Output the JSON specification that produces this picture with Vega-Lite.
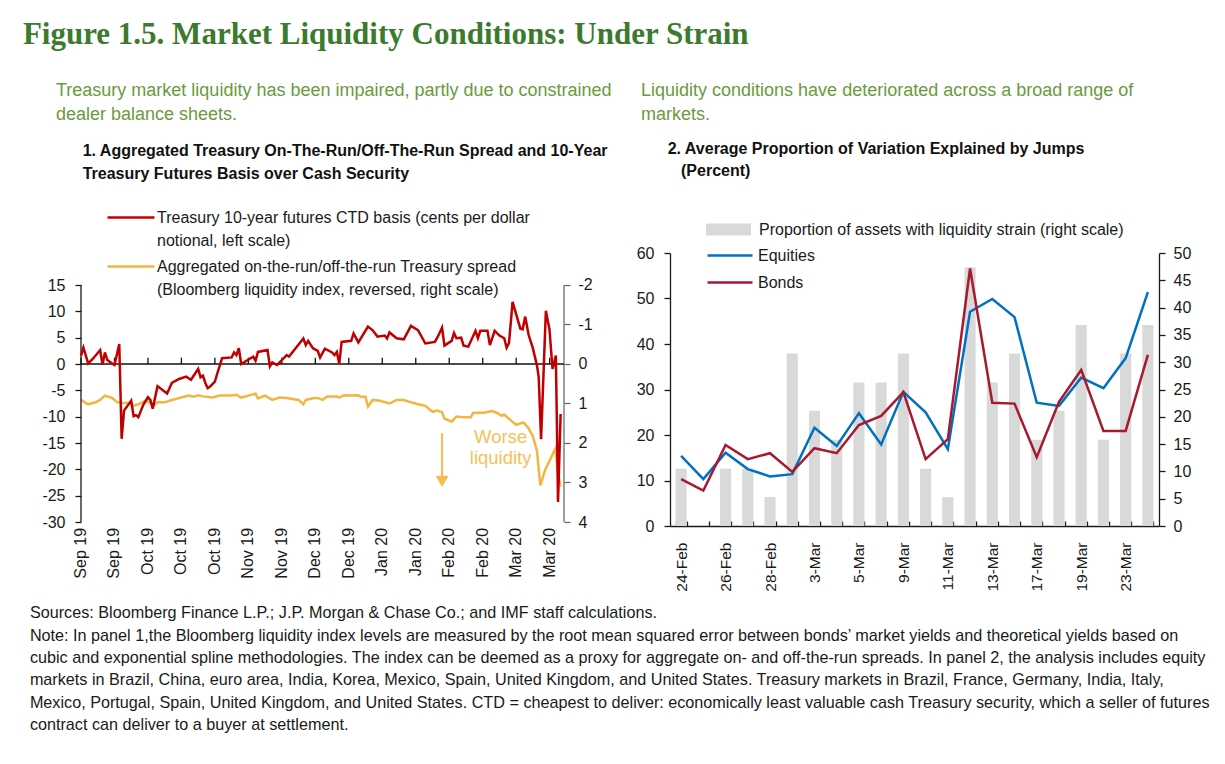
{
  "$schema": "https://vega.github.io/schema/vega-lite/v6.json",
  "background": "white",
  "padding": {"left": 22, "top": 18, "right": 10, "bottom": 10},
  "config": {
    "view": {"stroke": null},
    "axis": {"labelFont": "Liberation Sans", "labelFontSize": 16, "labelColor": "#1a1a1a", "domainColor": "#1a1a1a", "tickColor": "#1a1a1a", "grid": false, "domainWidth": 1.3, "tickWidth": 1.3, "labelOverlap": false},
    "legend": {"labelFont": "Liberation Sans", "labelFontSize": 16, "labelColor": "#1a1a1a", "padding": 0, "labelLimit": 0}
  },
  "datasets": {
    "ctd": [
      {"date": "2019-09-03", "ctd": 1.6}, {"date": "2019-09-04", "ctd": 3.1}, {"date": "2019-09-06", "ctd": 0.1}, {"date": "2019-09-08", "ctd": 1.0},
      {"date": "2019-09-11", "ctd": 2.65}, {"date": "2019-09-12", "ctd": -0.1}, {"date": "2019-09-13", "ctd": 2.2}, {"date": "2019-09-14", "ctd": 0.75},
      {"date": "2019-09-16", "ctd": 0.1}, {"date": "2019-09-17", "ctd": -0.2}, {"date": "2019-09-19", "ctd": 3.8}, {"date": "2019-09-20", "ctd": -14.2},
      {"date": "2019-09-21", "ctd": -8.85}, {"date": "2019-09-24", "ctd": -6.95}, {"date": "2019-09-25", "ctd": -9.9}, {"date": "2019-09-26", "ctd": -9.7},
      {"date": "2019-09-27", "ctd": -10.1}, {"date": "2019-09-29", "ctd": -7.8}, {"date": "2019-10-01", "ctd": -6.3}, {"date": "2019-10-02", "ctd": -6.8},
      {"date": "2019-10-03", "ctd": -8.5}, {"date": "2019-10-05", "ctd": -4.2}, {"date": "2019-10-09", "ctd": -5.6}, {"date": "2019-10-11", "ctd": -3.6},
      {"date": "2019-10-14", "ctd": -2.85}, {"date": "2019-10-17", "ctd": -2.4}, {"date": "2019-10-19", "ctd": -3.0}, {"date": "2019-10-22", "ctd": -0.95},
      {"date": "2019-10-23", "ctd": -2.5}, {"date": "2019-10-24", "ctd": -2.2}, {"date": "2019-10-25", "ctd": -3.6}, {"date": "2019-10-26", "ctd": -4.6},
      {"date": "2019-10-27", "ctd": -4.3}, {"date": "2019-10-29", "ctd": -3.35}, {"date": "2019-10-30", "ctd": -1.8}, {"date": "2019-11-01", "ctd": 1.1},
      {"date": "2019-11-05", "ctd": 1.25}, {"date": "2019-11-06", "ctd": 2.2}, {"date": "2019-11-07", "ctd": 1.7}, {"date": "2019-11-08", "ctd": 3.0},
      {"date": "2019-11-09", "ctd": 0.0}, {"date": "2019-11-14", "ctd": 1.4}, {"date": "2019-11-15", "ctd": 0.6}, {"date": "2019-11-16", "ctd": 2.3},
      {"date": "2019-11-20", "ctd": 2.65}, {"date": "2019-11-21", "ctd": -0.45}, {"date": "2019-11-22", "ctd": 0.3}, {"date": "2019-11-24", "ctd": -0.2},
      {"date": "2019-11-28", "ctd": 1.7}, {"date": "2019-11-29", "ctd": 1.4}, {"date": "2019-12-05", "ctd": 4.85}, {"date": "2019-12-06", "ctd": 3.6},
      {"date": "2019-12-07", "ctd": 4.4}, {"date": "2019-12-09", "ctd": 3.0}, {"date": "2019-12-11", "ctd": 2.5}, {"date": "2019-12-12", "ctd": 1.25},
      {"date": "2019-12-14", "ctd": 2.9}, {"date": "2019-12-17", "ctd": 2.2}, {"date": "2019-12-18", "ctd": 1.7}, {"date": "2019-12-19", "ctd": 2.3},
      {"date": "2019-12-20", "ctd": 0.0}, {"date": "2019-12-21", "ctd": 4.2}, {"date": "2019-12-25", "ctd": 4.4}, {"date": "2019-12-26", "ctd": 5.8},
      {"date": "2019-12-28", "ctd": 4.1}, {"date": "2020-01-01", "ctd": 7.1}, {"date": "2020-01-03", "ctd": 6.4}, {"date": "2020-01-05", "ctd": 5.2},
      {"date": "2020-01-08", "ctd": 5.4}, {"date": "2020-01-09", "ctd": 4.85}, {"date": "2020-01-10", "ctd": 6.0}, {"date": "2020-01-13", "ctd": 4.9},
      {"date": "2020-01-16", "ctd": 4.7}, {"date": "2020-01-19", "ctd": 7.25}, {"date": "2020-01-22", "ctd": 6.4}, {"date": "2020-01-25", "ctd": 3.9},
      {"date": "2020-01-29", "ctd": 4.2}, {"date": "2020-01-30", "ctd": 5.0}, {"date": "2020-02-01", "ctd": 6.9}, {"date": "2020-02-02", "ctd": 3.5},
      {"date": "2020-02-05", "ctd": 4.4}, {"date": "2020-02-06", "ctd": 5.9}, {"date": "2020-02-07", "ctd": 4.9}, {"date": "2020-02-09", "ctd": 5.0},
      {"date": "2020-02-10", "ctd": 3.5}, {"date": "2020-02-12", "ctd": 3.3}, {"date": "2020-02-15", "ctd": 6.3}, {"date": "2020-02-16", "ctd": 4.9},
      {"date": "2020-02-17", "ctd": 6.3}, {"date": "2020-02-20", "ctd": 6.3}, {"date": "2020-02-21", "ctd": 3.6}, {"date": "2020-02-23", "ctd": 6.3},
      {"date": "2020-02-25", "ctd": 5.4}, {"date": "2020-02-27", "ctd": 4.9}, {"date": "2020-02-28", "ctd": 3.1}, {"date": "2020-02-29", "ctd": 4.0},
      {"date": "2020-03-01T12:00:00Z", "ctd": 11.8}, {"date": "2020-03-04T17:00:00Z", "ctd": 6.75}, {"date": "2020-03-05T17:00:00Z", "ctd": 6.6},
      {"date": "2020-03-06T19:00:00Z", "ctd": 9.0}, {"date": "2020-03-08T05:00:00Z", "ctd": 5.5}, {"date": "2020-03-09T22:00:00Z", "ctd": 3.1},
      {"date": "2020-03-11T17:00:00Z", "ctd": -0.3}, {"date": "2020-03-12T10:00:00Z", "ctd": -2.5}, {"date": "2020-03-13T10:00:00Z", "ctd": -14.3},
      {"date": "2020-03-15T10:00:00Z", "ctd": 10.1}, {"date": "2020-03-16T22:00:00Z", "ctd": 6.6}, {"date": "2020-03-18T05:00:00Z", "ctd": -0.95},
      {"date": "2020-03-18T19:00:00Z", "ctd": 0.0}, {"date": "2020-03-19T14:00:00Z", "ctd": 1.6}, {"date": "2020-03-20T00:00:00Z", "ctd": -10.4},
      {"date": "2020-03-20T12:00:00Z", "ctd": -26.2}, {"date": "2020-03-21T00:00:00Z", "ctd": -18.6}, {"date": "2020-03-21T14:00:00Z", "ctd": -9.5}
    ],
    "liq": [
      {"date": "2019-09-03", "liq": 0.91}, {"date": "2019-09-06", "liq": 1.02}, {"date": "2019-09-09", "liq": 0.97}, {"date": "2019-09-11", "liq": 0.91},
      {"date": "2019-09-13", "liq": 0.80}, {"date": "2019-09-16", "liq": 0.86}, {"date": "2019-09-18", "liq": 0.96}, {"date": "2019-09-20", "liq": 0.99},
      {"date": "2019-09-23", "liq": 0.99}, {"date": "2019-09-25", "liq": 1.06}, {"date": "2019-09-27", "liq": 1.02}, {"date": "2019-09-30", "liq": 0.93},
      {"date": "2019-10-02", "liq": 0.99}, {"date": "2019-10-03", "liq": 1.07}, {"date": "2019-10-05", "liq": 0.97}, {"date": "2019-10-08", "liq": 0.97},
      {"date": "2019-10-11", "liq": 0.91}, {"date": "2019-10-15", "liq": 0.85}, {"date": "2019-10-18", "liq": 0.80}, {"date": "2019-10-20", "liq": 0.83},
      {"date": "2019-10-22", "liq": 0.79}, {"date": "2019-10-24", "liq": 0.82}, {"date": "2019-10-28", "liq": 0.85}, {"date": "2019-10-31", "liq": 0.80},
      {"date": "2019-11-05", "liq": 0.80}, {"date": "2019-11-07", "liq": 0.78}, {"date": "2019-11-09", "liq": 0.85}, {"date": "2019-11-12", "liq": 0.80},
      {"date": "2019-11-15", "liq": 0.75}, {"date": "2019-11-16", "liq": 0.87}, {"date": "2019-11-19", "liq": 0.80}, {"date": "2019-11-22", "liq": 0.91},
      {"date": "2019-11-25", "liq": 0.85}, {"date": "2019-11-28", "liq": 0.86}, {"date": "2019-12-03", "liq": 0.91}, {"date": "2019-12-05", "liq": 1.02},
      {"date": "2019-12-06", "liq": 0.91}, {"date": "2019-12-09", "liq": 0.87}, {"date": "2019-12-11", "liq": 0.86}, {"date": "2019-12-13", "liq": 0.91},
      {"date": "2019-12-15", "liq": 0.82}, {"date": "2019-12-19", "liq": 0.82}, {"date": "2019-12-20", "liq": 0.85}, {"date": "2019-12-22", "liq": 0.79},
      {"date": "2019-12-25", "liq": 0.80}, {"date": "2019-12-28", "liq": 0.79}, {"date": "2019-12-29", "liq": 0.83}, {"date": "2019-12-31", "liq": 0.83},
      {"date": "2020-01-01", "liq": 1.08}, {"date": "2020-01-03", "liq": 0.91}, {"date": "2020-01-06", "liq": 0.93}, {"date": "2020-01-10", "liq": 1.0},
      {"date": "2020-01-13", "liq": 0.91}, {"date": "2020-01-16", "liq": 0.91}, {"date": "2020-01-19", "liq": 0.97}, {"date": "2020-01-22", "liq": 1.02},
      {"date": "2020-01-25", "liq": 1.06}, {"date": "2020-01-28", "liq": 1.21}, {"date": "2020-01-30", "liq": 1.18}, {"date": "2020-02-01", "liq": 1.22},
      {"date": "2020-02-02", "liq": 1.38}, {"date": "2020-02-05", "liq": 1.46}, {"date": "2020-02-07", "liq": 1.33}, {"date": "2020-02-10", "liq": 1.35},
      {"date": "2020-02-13", "liq": 1.35}, {"date": "2020-02-14", "liq": 1.24}, {"date": "2020-02-19", "liq": 1.23}, {"date": "2020-02-22", "liq": 1.19},
      {"date": "2020-02-24", "liq": 1.24}, {"date": "2020-02-26", "liq": 1.31}, {"date": "2020-02-27", "liq": 1.28}, {"date": "2020-03-01", "liq": 1.44},
      {"date": "2020-03-03", "liq": 1.54}, {"date": "2020-03-06", "liq": 1.48}, {"date": "2020-03-08", "liq": 1.61}, {"date": "2020-03-09T22:00:00Z", "liq": 1.82},
      {"date": "2020-03-11T17:00:00Z", "liq": 2.2}, {"date": "2020-03-13T02:00:00Z", "liq": 3.07}, {"date": "2020-03-15T05:00:00Z", "liq": 2.67},
      {"date": "2020-03-19T10:00:00Z", "liq": 2.14}, {"date": "2020-03-20T12:00:00Z", "liq": 2.75}, {"date": "2020-03-21T14:00:00Z", "liq": 3.1}
    ],
    "ticks": [
      {"date": "2019-09-03", "label": "Sep 19"}, {"date": "2019-09-17", "label": "Sep 19"}, {"date": "2019-10-01", "label": "Oct 19"},
      {"date": "2019-10-15", "label": "Oct 19"}, {"date": "2019-10-29", "label": "Oct 19"}, {"date": "2019-11-12", "label": "Nov 19"},
      {"date": "2019-11-26", "label": "Nov 19"}, {"date": "2019-12-10", "label": "Dec 19"}, {"date": "2019-12-24", "label": "Dec 19"},
      {"date": "2020-01-07", "label": "Jan 20"}, {"date": "2020-01-21", "label": "Jan 20"}, {"date": "2020-02-04", "label": "Feb 20"},
      {"date": "2020-02-18", "label": "Feb 20"}, {"date": "2020-03-03", "label": "Mar 20"}, {"date": "2020-03-17", "label": "Mar 20"}
    ],
    "jumps": [
      {"day": "24-Feb", "strain": 10.5, "equities": 15.4, "bonds": 10.3},
      {"day": "25-Feb", "strain": 0, "equities": 10.3, "bonds": 7.8},
      {"day": "26-Feb", "strain": 10.5, "equities": 16.1, "bonds": 17.8},
      {"day": "27-Feb", "strain": 10.5, "equities": 12.5, "bonds": 14.7},
      {"day": "28-Feb", "strain": 5.3, "equities": 10.9, "bonds": 16.0},
      {"day": "2-Mar", "strain": 31.6, "equities": 11.4, "bonds": 11.9},
      {"day": "3-Mar", "strain": 21.1, "equities": 21.6, "bonds": 17.1},
      {"day": "4-Mar", "strain": 15.8, "equities": 17.6, "bonds": 16.0},
      {"day": "5-Mar", "strain": 26.3, "equities": 24.8, "bonds": 22.2},
      {"day": "6-Mar", "strain": 26.3, "equities": 17.9, "bonds": 24.2},
      {"day": "9-Mar", "strain": 31.6, "equities": 29.5, "bonds": 29.4},
      {"day": "10-Mar", "strain": 10.5, "equities": 25.0, "bonds": 14.7},
      {"day": "11-Mar", "strain": 5.3, "equities": 16.9, "bonds": 19.1},
      {"day": "12-Mar", "strain": 47.4, "equities": 47.1, "bonds": 56.6},
      {"day": "13-Mar", "strain": 26.3, "equities": 49.9, "bonds": 27.1},
      {"day": "16-Mar", "strain": 31.6, "equities": 45.9, "bonds": 26.9},
      {"day": "17-Mar", "strain": 15.8, "equities": 27.1, "bonds": 15.1},
      {"day": "18-Mar", "strain": 21.1, "equities": 26.4, "bonds": 27.3},
      {"day": "19-Mar", "strain": 36.8, "equities": 32.6, "bonds": 34.3},
      {"day": "20-Mar", "strain": 15.8, "equities": 30.3, "bonds": 20.9},
      {"day": "23-Mar", "strain": 31.6, "equities": 36.9, "bonds": 20.9},
      {"day": "24-Mar", "strain": 36.8, "equities": 51.4, "bonds": 37.6}
    ]
  },
  "title": {
    "text": "Figure 1.5. Market Liquidity Conditions: Under Strain",
    "font": "Liberation Serif", "fontWeight": "bold", "fontSize": 31, "color": "#3C7A2D",
    "anchor": "start", "offset": 31, "dx": -7
  },
  "vconcat": [
    {
      "title": {
        "text": [
          "Sources: Bloomberg Finance L.P.; J.P. Morgan & Chase Co.; and IMF staff calculations.",
          "Note: In panel 1,the Bloomberg liquidity index levels are measured by the root mean squared error between bonds’ market yields and theoretical yields based on",
          "cubic and exponential spline methodologies. The index can be deemed as a proxy for aggregate on- and off-the-run spreads. In panel 2, the analysis includes equity",
          "markets in Brazil, China,  euro area, India, Korea, Mexico, Spain, United Kingdom, and United States. Treasury markets in Brazil, France, Germany, India, Italy,",
          "Mexico, Portugal, Spain, United Kingdom, and United States. CTD = cheapest to deliver: economically least valuable cash Treasury security, which a seller of futures",
          "contract can deliver to a buyer at settlement."
        ],
        "orient": "bottom", "anchor": "start", "font": "Liberation Sans", "fontSize": 16.2, "fontWeight": "normal",
        "color": "#1a1a1a", "lineHeight": 22.4, "offset": 14, "dx": -12
      },
      "hconcat": [
        {
          "width": 483, "height": 269,
          "title": {
            "text": ["Treasury market liquidity has been impaired, partly due to constrained", "dealer balance sheets."],
            "subtitle": ["\u200b\u00a0\u00a0\u00a0\u00a0\u00a0\u00a01. Aggregated Treasury On-The-Run/Off-The-Run  Spread and 10-Year", "\u200b\u00a0\u00a0\u00a0\u00a0\u00a0\u00a0Treasury Futures Basis over Cash Security"],
            "anchor": "start", "frame": "group", "dx": -25,
            "font": "Liberation Sans", "fontSize": 18, "fontWeight": "normal", "color": "#6A9A3E", "lineHeight": 24,
            "subtitleFont": "Liberation Sans", "subtitleFontSize": 16, "subtitleFontWeight": "bold", "subtitleColor": "#111111",
            "subtitleLineHeight": 23, "subtitlePadding": 19, "offset": 10.5
          },
          "layer": [
            {
              "layer": [
                {
                  "data": {"name": "liq"},
                  "mark": {"type": "line", "strokeWidth": 2.5},
                  "encoding": {
                    "x": {"field": "date", "type": "temporal",
                      "scale": {"type": "utc", "domain": [{"year": 2019, "month": 9, "date": 3, "utc": true}, {"year": 2020, "month": 3, "date": 23, "utc": true}]},
                      "axis": {"title": null, "labels": false, "domain": false, "ticks": false}},
                    "y": {"field": "liq", "type": "quantitative",
                      "scale": {"domain": [-2.81, 4], "reverse": true, "nice": false, "zero": false},
                      "axis": {"title": null, "orient": "right", "values": [-2, -1, 0, 1, 2, 3, 4], "labelExpr": "replace(datum.label, '\u2212', '-')", "domain": false, "tickSize": 6, "labelPadding": 8, "tickColor": "#6b6b6b", "labelOverlap": false}},
                    "color": {"datum": "Aggregated on-the-run/off-the-run Treasury spread|(Bloomberg liquidity index, reversed, right scale)",
                      "scale": {"range": ["#F2B640"]},
                      "legend": {"title": null, "orient": "none", "legendX": 25, "legendY": -11.5, "symbolType": "stroke", "symbolSize": 2209, "symbolStrokeWidth": 2.5,
                        "labelOffset": 1, "labelExpr": "split(datum.label, '|')", "labelFontSize": 16,
                        "encode": {"labels": {"update": {"lineHeight": {"value": 23}}}}}}
                  }
                },
                {
                  "data": {"values": [{}]},
                  "mark": {"type": "rule", "color": "#6b6b6b", "strokeWidth": 1.3},
                  "encoding": {
                    "x": {"datum": {"year": 2020, "month": 3, "date": 23, "utc": true}},
                    "y": {"datum": -2}, "y2": {"datum": 4}
                  }
                },
                {
                  "data": {"values": [{}]},
                  "mark": {"type": "rule", "color": "#1a1a1a", "strokeWidth": 1.3},
                  "encoding": {
                    "x": {"datum": {"year": 2019, "month": 9, "date": 3, "utc": true}},
                    "y": {"datum": -2}, "y2": {"datum": 4}
                  }
                },
                {
                  "data": {"name": "ticks"},
                  "mark": {"type": "rule", "color": "#111111", "strokeWidth": 1.3},
                  "encoding": {
                    "x": {"field": "date", "type": "temporal", "axis": {"title": null, "labels": false, "domain": false, "ticks": false}},
                    "y": {"datum": 0}, "y2": {"datum": -0.16}
                  }
                },
                {
                  "data": {"name": "ticks"},
                  "mark": {"type": "text", "angle": 270, "align": "right", "baseline": "middle", "font": "Liberation Sans", "fontSize": 16, "color": "#1a1a1a"},
                  "encoding": {
                    "x": {"field": "date", "type": "temporal"},
                    "y": {"datum": 4.15},
                    "text": {"field": "label"}
                  }
                },
                {
                  "data": {"values": [{}]},
                  "mark": {"type": "rule", "color": "#111111", "strokeWidth": 1.5},
                  "encoding": {"y": {"datum": 0}}
                },
                {
                  "data": {"values": [{}]},
                  "mark": {"type": "rule", "color": "#F4BE4F", "strokeWidth": 2},
                  "encoding": {
                    "x": {"datum": {"year": 2020, "month": 2, "date": 1, "utc": true}},
                    "y": {"datum": 1.75}, "y2": {"datum": 2.85}
                  }
                },
                {
                  "data": {"values": [{}]},
                  "mark": {"type": "point", "shape": "triangle-down", "filled": true, "color": "#F4BE4F", "size": 170, "opacity": 1},
                  "encoding": {
                    "x": {"datum": {"year": 2020, "month": 2, "date": 1, "utc": true}},
                    "y": {"datum": 2.97}
                  }
                },
                {
                  "data": {"values": [{}]},
                  "mark": {"type": "text", "text": ["Worse", "liquidity"], "font": "Liberation Sans", "fontSize": 18.5, "color": "#F4C25A", "align": "center", "baseline": "alphabetic", "lineHeight": 21},
                  "encoding": {
                    "x": {"datum": {"year": 2020, "month": 2, "date": 25, "hours": 12, "utc": true}},
                    "y": {"datum": 2.0}
                  }
                }
              ]
            },
            {
              "data": {"name": "ctd"},
              "mark": {"type": "line", "strokeWidth": 2.5},
              "encoding": {
                "x": {"field": "date", "type": "temporal", "axis": {"title": null, "labels": false, "domain": false, "ticks": false}},
                "y": {"field": "ctd", "type": "quantitative",
                  "scale": {"domain": [-30, 21.08], "nice": false, "zero": false},
                  "axis": {"title": null, "orient": "left", "values": [-30, -25, -20, -15, -10, -5, 0, 5, 10, 15], "labelExpr": "replace(datum.label, '\u2212', '-')", "domain": false, "tickSize": 6, "labelPadding": 10, "labelOverlap": false}},
                "stroke": {"datum": "Treasury 10-year futures CTD basis (cents per dollar|notional, left scale)",
                  "scale": {"range": ["#C00000"]},
                  "legend": {"title": null, "orient": "none", "legendX": 25, "legendY": -60.5, "symbolType": "stroke", "symbolSize": 2209, "symbolStrokeWidth": 2.5,
                    "labelOffset": 1, "labelExpr": "split(datum.label, '|')", "labelFontSize": 16,
                    "encode": {"labels": {"update": {"lineHeight": {"value": 23}}}}}}
              }
            }
          ],
          "resolve": {"scale": {"y": "independent"}}
        },
        {
          "width": 489, "height": 273,
          "title": {
            "text": ["Liquidity conditions have deteriorated across a broad range of", "markets."],
            "subtitle": ["\u200b\u00a0\u00a0\u00a0\u00a0\u00a0\u00a02. Average Proportion of Variation Explained by Jumps", "\u200b\u00a0\u00a0\u00a0\u00a0\u00a0\u00a0\u00a0\u00a0\u00a0(Percent)"],
            "anchor": "start", "frame": "group", "dx": -29,
            "font": "Liberation Sans", "fontSize": 18, "fontWeight": "normal", "color": "#6A9A3E", "lineHeight": 24,
            "subtitleFont": "Liberation Sans", "subtitleFontSize": 16, "subtitleFontWeight": "bold", "subtitleColor": "#111111",
            "subtitleLineHeight": 22, "subtitlePadding": 17, "offset": 28.5
          },
          "data": {"name": "jumps"},
          "layer": [
            {
              "mark": {"type": "bar"},
              "encoding": {
                "x": {"field": "day", "type": "ordinal", "sort": null,
                  "scale": {"paddingInner": 0.5, "paddingOuter": 0.25},
                  "axis": {"title": null, "labelAngle": -90, "tickBand": "extent", "tickSize": -5, "labelPadding": 21, "labelFontSize": 15.5,
                    "labelExpr": "indexof(['24-Feb','26-Feb','28-Feb','3-Mar','5-Mar','9-Mar','11-Mar','13-Mar','17-Mar','19-Mar','23-Mar'], datum.value) >= 0 ? datum.label : ''"}},
                "y": {"field": "strain", "type": "quantitative",
                  "scale": {"domain": [0, 50], "nice": false},
                  "axis": {"title": null, "orient": "right", "values": [0, 5, 10, 15, 20, 25, 30, 35, 40, 45, 50], "tickSize": 6, "labelPadding": 8, "labelOverlap": false}},
                "fill": {"datum": "Proportion of assets with liquidity strain (right scale)",
                  "scale": {"range": ["#D9D9D9"]},
                  "legend": {"title": null, "orient": "none", "legendX": 36, "legendY": -46, "symbolType": "M-1,-0.27H1V0.27H-1Z", "symbolSize": 2025, "symbolStrokeWidth": 0, "labelOffset": 8}}
              }
            },
            {
              "layer": [
                {
                  "mark": {"type": "line", "strokeWidth": 2.5},
                  "encoding": {
                    "x": {"field": "day", "type": "ordinal", "sort": null},
                    "y": {"field": "equities", "type": "quantitative",
                      "scale": {"domain": [0, 60], "nice": false},
                      "axis": {"title": null, "orient": "left", "values": [0, 10, 20, 30, 40, 50, 60], "tickSize": 6, "labelPadding": 10, "labelOverlap": false}},
                    "stroke": {"datum": "Equities",
                      "scale": {"range": ["#0070C0"]},
                      "legend": {"title": null, "orient": "none", "legendX": 36, "legendY": -21.5, "symbolType": "stroke", "symbolSize": 2025, "symbolStrokeWidth": 2.5, "labelOffset": 4}}
                  }
                },
                {
                  "mark": {"type": "line", "strokeWidth": 2.5},
                  "encoding": {
                    "x": {"field": "day", "type": "ordinal", "sort": null},
                    "y": {"field": "bonds", "type": "quantitative"},
                    "color": {"datum": "Bonds",
                      "scale": {"range": ["#A6192E"]},
                      "legend": {"title": null, "orient": "none", "legendX": 36, "legendY": 5.5, "symbolType": "stroke", "symbolSize": 2025, "symbolStrokeWidth": 2.5, "labelOffset": 4}}
                  }
                }
              ]
            }
          ],
          "resolve": {"scale": {"y": "independent"}}
        }
      ],
      "spacing": 23,
      "resolve": {"scale": {"stroke": "independent", "fill": "independent", "color": "independent"}, "legend": {"stroke": "independent", "fill": "independent", "color": "independent"}}
    }
  ]
}
